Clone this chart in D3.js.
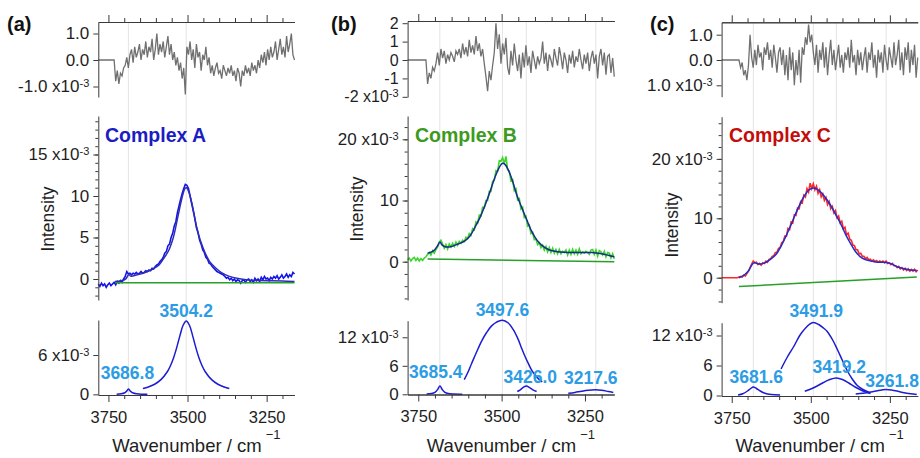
<!DOCTYPE html>
<html><head><meta charset="utf-8">
<script src="https://cdn.jsdelivr.net/npm/d3@7"></script>
<style>
html,body{margin:0;padding:0;background:#fff;}
svg{display:block;font-family:"Liberation Sans",Arial,sans-serif;}
</style></head><body>
<svg id="chart" width="920" height="458"></svg>
<script>
// ---- sampling grid of the recorded traces (cm^-1) ----
const gridStart = 3782, gridStep = 5, gridCount = 125;
const wavenumbers = d3.range(gridCount).map(i => gridStart - i * gridStep);

// ---- Complex A (all intensities in units of 1e-3) ----
const residualA = [0,0,0,0,0,0,0,0,0,0,0,
  -0.8,-0.4,-0.9,-0.5,-0.6,-0.3, -0.2,0.1,-0.3,0.2,
  0.4,-0.1,0.5,0.1,0.3,0.6,0.0,0.4,0.2,0.7,
  0.1,0.5,0.3,0.8,0.0,0.4,1.0,0.2,0.6,0.3,
  0.7,0.1,0.5,0.9,0.2,0.6,0.0,0.3,-0.2,0.1,
  -0.4,-0.1,-0.7,-0.3,-1.3, 0.5,0.2,0.7,0.0,0.4,
  -0.3,0.6,0.1,0.3,-0.4,0.2,0.0,0.5,-0.2,0.1,
  -0.5,-0.2,-0.6,-0.3,-0.1,-0.5,-0.4,-0.7,-0.2,-0.4,
  -0.6,-0.3,-0.5,-0.2,-0.6,-0.4,-0.8,-0.3,-0.5,-1.0,
  -0.4,-0.6,-0.2,-0.5,-0.3,-0.6,-0.1,-0.4,-0.2,-0.5,
  0.0,-0.3,0.2,-0.1,0.3,-0.2,0.4,0.0,0.5,0.1,
  0.3,0.7,0.0,0.4,0.8,0.2,0.5,0.1,0.9,0.3,
  0.6,1.0,0.2,0.0];
const spectrumA = [-0.6,-0.9,-0.5,-0.8,-0.6,-1.0,-0.7,-0.5,-0.8,-0.6,-0.4,
  -0.7,-0.3,-0.5,-0.2,-0.4,0.0, 0.3,0.9,0.6,0.7,
  0.5,0.7,0.6,0.8,0.6,0.7,0.9,0.7,0.8,1.0,
  0.9,1.1,1.0,1.3,1.2,1.5,1.7,1.8,2.1,2.3,
  2.6,3.1,3.3,4.0,4.2,5.0,5.5,6.4,6.9,8.0,
  8.8,9.6,10.3,10.9,11.4, 11.3,10.9,10.0,9.1,8.2,
  7.3,6.2,5.6,4.7,4.2,3.5,3.2,2.6,2.4,1.9,
  1.8,1.5,1.3,1.1,0.9,0.8,0.7,0.6,0.5,0.3,
  0.1,0.2,-0.1,0.1,-0.2,0.0,-0.3,-0.1,-0.2,-0.5,
  -0.2,-0.1,-0.4,-0.1,0.0,-0.3,-0.1,-0.4,0.1,-0.2,
  0.0,-0.3,0.2,-0.1,0.3,0.0,0.1,-0.2,0.2,0.0,
  0.3,0.1,0.4,0.0,0.2,0.5,0.1,0.3,0.6,0.2,
  0.5,0.3,0.8,0.6];
const fitA = [[3729,-0.3],[3710,-0.2],[3697,-0.05],[3690,0.3],[3686,0.55],[3680,0.35],[3670,0.4],
  [3650,0.6],[3630,0.85],[3610,1.2],[3590,1.7],[3575,2.5],[3560,3.4],[3545,5.0],[3530,7.6],
  [3518,9.7],[3508,10.9],[3503,11.0],[3495,10.4],[3485,8.9],[3472,6.4],[3460,4.7],[3445,3.2],
  [3430,2.1],[3410,1.3],[3390,0.7],[3370,0.35],[3340,0.05],[3300,-0.15],[3250,-0.2],[3200,-0.25],[3162,-0.3]];
const baselineA = [[3729,-0.45],[3162,-0.45]];
const peaksA = [
  {label:"3686.8", center:3686.8, points:[[3724,0.02],[3710,0.08],[3700,0.2],[3693,0.45],[3687,0.8],[3680,0.45],[3672,0.2],[3660,0.08],[3645,0.03],[3627,0.02]]},
  {label:"3504.2", center:3504.2, points:[[3641,0.88],[3624,1.12],[3604,1.54],[3584,2.24],[3564,3.45],[3554,4.37],[3544,5.6],[3534,7.17],[3524,8.96],[3514,10.54],[3504,11.2],[3494,10.54],[3484,8.96],[3474,7.17],[3464,5.6],[3454,4.37],[3444,3.45],[3424,2.24],[3404,1.54],[3384,1.12],[3368,0.88]]}
];

// ---- Complex B ----
const residualB = [0,0,0,0,0,0,0,0,0,0,0,0,
  -1.3,-0.7,-1.0,-0.4,-0.6, -0.2,0.4,-0.3,0.6,
  0.1,0.5,-0.2,0.3,0.0,0.4,0.2,-0.1,0.5,0.3,
  0.6,0.1,0.9,0.3,0.7,0.2,1.1,0.4,0.8,0.3,
  1.3,0.5,0.9,0.2,0.6,-0.2,-0.9,-1.7,-0.6,-1.1,
  -0.3,0.4,2.0,0.6,1.4, -0.2,0.9,0.3,1.2,-0.4,
  -0.8,0.5,-0.3,0.9,0.0,-0.6,0.3,-1.0,0.4,-0.4,
  0.8,-0.3,0.2,-0.7,0.5,0.0,-0.5,0.2,-0.2,0.1,
  1.0,-0.2,0.4,-0.6,0.3,0.0,-0.4,0.6,0.1,-0.3,
  0.7,0.2,-0.5,0.4,0.0,-0.7,0.3,-0.2,0.5,-0.4,
  0.2,-0.1,0.6,0.0,-0.5,0.3,-0.2,0.4,-0.6,0.1,
  0.5,-0.2,0.3,-1.0,0.2,0.6,-0.3,0.4,-0.8,0.2,
  0.3,-0.7,0.1,-0.9];
const spectrumB = [0.3,0.6,0.1,0.5,0.7,0.2,0.6,0.1,0.5,0.2,0.6,0.8,
  1.2,1.5,1.1,1.8,1.4, 2.0,2.4,3.2,3.5,
  2.9,2.2,2.8,2.1,2.9,2.4,3.0,2.5,3.2,2.7,
  3.3,3.0,3.5,3.3,4.0,3.8,4.6,4.3,5.4,5.2,
  6.5,6.3,7.6,7.5,8.9,8.8,10.0,10.0,11.5,11.5,
  13.1,13.3,14.9,14.8,16.5, 16.4,17.0,16.0,17.2,15.0,
  14.8,13.2,13.4,11.6,11.9,10.1,10.3,8.6,8.9,7.2,
  7.4,5.8,6.0,4.6,4.8,3.6,3.7,2.8,3.1,2.3,
  2.7,1.9,2.5,1.6,2.3,1.5,2.2,1.4,2.0,1.3,
  2.0,1.3,1.7,1.5,1.9,1.1,1.9,1.2,2.0,1.3,
  1.9,1.2,2.1,1.3,1.6,1.4,1.7,1.5,1.2,1.9,
  2.0,1.2,1.9,0.9,1.8,1.6,1.1,1.7,0.8,1.5,
  1.4,0.6,1.3,0.5];
const fitB = [[3722,1.4],[3710,1.6],[3700,2.0],[3692,2.6],[3685,3.2],[3678,2.7],[3668,2.4],[3650,2.5],
  [3630,2.9],[3610,3.4],[3595,4.2],[3580,5.6],[3565,7.2],[3550,9.2],[3535,11.4],[3520,13.8],[3508,15.3],
  [3498,16.1],[3490,15.9],[3480,15.0],[3468,13.3],[3455,11.0],[3440,8.9],[3425,6.9],[3410,5.0],[3395,3.6],
  [3380,2.7],[3360,2.0],[3340,1.7],[3300,1.5],[3260,1.5],[3230,1.5],[3200,1.3],[3180,1.05],[3162,0.8]];
const baselineB = [[3722,0.45],[3162,0.0]];
const peaksB = [
  {label:"3685.4", center:3685.4, points:[[3725,0.05],[3710,0.15],[3700,0.4],[3692,1.0],[3685,1.75],[3678,1.0],[3670,0.4],[3660,0.15],[3645,0.06],[3618,0.02]]},
  {label:"3497.6", center:3497.6, points:[[3612,3.1],[3600,4.8],[3590,6.5],[3580,8.1],[3570,9.7],[3560,11.2],[3545,13.0],[3530,14.4],[3515,15.2],[3498,15.6],[3480,15.0],[3465,13.6],[3450,11.5],[3440,9.7],[3430,8.0],[3420,6.5],[3410,5.1],[3400,4.1],[3390,3.3],[3378,2.6]]},
  {label:"3426.0", center:3426.0, points:[[3453,0.6],[3445,0.9],[3436,1.4],[3426,1.75],[3416,1.4],[3406,0.95],[3395,0.6]]},
  {label:"3217.6", center:3217.6, points:[[3300,0.2],[3280,0.4],[3260,0.65],[3240,0.85],[3218,0.95],[3200,0.85],[3180,0.6],[3165,0.4]]}
];

// ---- Complex C ----
const residualC = [0,0,0,0,0,0,0,0,0,0,0,
  0.0,-0.3,-0.1,-0.6,-0.4,-0.8, -0.2,1.0,0.1,-0.3,
  0.4,-0.2,0.6,0.1,0.3,-0.4,0.5,0.2,0.7,0.0,
  0.4,-0.3,0.6,0.1,-0.5,0.3,0.5,-0.2,0.4,-0.6,
  0.2,-0.8,0.5,-0.4,0.3,-1.0,0.0,-0.6,0.4,-0.9,
  0.5,0.2,0.9,0.6,1.4, 0.7,1.0,0.3,-0.2,0.6,
  -0.5,0.4,0.0,0.7,-0.3,0.5,-0.6,0.2,0.8,-0.2,
  0.4,-0.4,0.1,0.6,-0.3,0.2,-0.5,0.3,0.0,0.5,
  -0.3,0.8,-0.1,0.2,-0.6,0.4,-0.2,0.3,-0.4,0.1,
  0.5,-0.5,0.3,0.0,0.7,-0.3,0.2,-0.7,0.4,-0.1,
  0.3,-0.5,0.6,0.0,-0.4,0.5,0.1,-0.3,0.7,-0.2,
  0.2,0.8,-0.4,0.3,-0.6,0.5,0.0,0.7,-0.5,0.4,
  -0.2,0.6,-0.7,0.1];
const spectrumC = [0,0,0,0,0,0,0,0,0,0,0,
  0.1,0.2,0.1,0.4,0.3,0.7, 1.1,1.7,2.3,2.8,
  2.5,2.6,2.2,2.4,2.1,2.5,2.4,2.8,2.6,3.1,
  3.2,3.6,3.7,4.2,4.3,4.9,5.1,5.9,6.1,7.0,
  7.0,8.3,8.1,9.4,9.2,10.6,10.5,11.7,11.6,12.8,
  12.6,13.9,13.6,15.0,14.4, 15.9,15.0,15.8,14.8,15.4,
  14.2,14.8,13.6,14.1,13.0,13.5,12.3,12.8,11.6,12.0,
  10.9,11.3,10.1,10.4,9.2,9.5,8.2,8.5,7.2,7.5,
  6.5,6.3,5.5,5.4,4.7,4.7,4.0,4.1,3.6,3.6,
  3.2,3.4,3.0,3.1,2.8,3.0,2.7,2.9,2.6,2.8,
  2.6,2.8,2.5,2.8,2.4,2.5,2.2,2.4,2.0,2.0,
  1.7,1.9,1.5,1.7,1.3,1.6,1.2,1.5,1.1,1.4,
  1.1,1.4,1.0,1.3];
const fitC = [[3727,0.0],[3715,0.3],[3705,0.7],[3695,1.3],[3688,2.0],[3680,2.5],[3670,2.4],[3660,2.3],
  [3645,2.5],[3630,3.0],[3610,3.9],[3595,5.2],[3580,6.8],[3565,8.6],[3550,10.5],[3535,12.3],[3520,13.8],
  [3505,14.8],[3492,15.1],[3480,14.9],[3465,14.2],[3450,13.2],[3435,12.0],[3420,10.5],[3405,9.0],[3390,7.3],
  [3375,5.8],[3360,4.5],[3345,3.6],[3330,3.1],[3310,2.8],[3290,2.6],[3270,2.6],[3255,2.5],[3240,2.2],
  [3225,1.8],[3205,1.5],[3185,1.3],[3165,1.2]];
const baselineC = [[3727,-1.5],[3165,0.1]];
const peaksC = [
  {label:"3681.6", center:3681.6, points:[[3730,0.1],[3715,0.35],[3700,0.9],[3690,1.4],[3681.6,1.7],[3672,1.4],[3660,0.9],[3645,0.45],[3625,0.2],[3597,0.08]]},
  {label:"3491.9", center:3491.9, points:[[3594,5.3],[3575,7.6],[3553,9.9],[3535,12.0],[3522,13.1],[3505,14.2],[3492,14.6],[3475,14.2],[3460,13.5],[3448,12.8],[3430,11.0],[3416,9.2],[3400,7.0],[3385,5.0],[3370,3.4],[3353,2.0],[3335,1.2],[3315,0.6]]},
  {label:"3419.2", center:3419.2, points:[[3519,0.85],[3500,1.3],[3480,1.9],[3460,2.6],[3440,3.2],[3419,3.5],[3400,3.2],[3380,2.5],[3360,1.7],[3340,1.05],[3325,0.7],[3311,0.4]]},
  {label:"3261.8", center:3261.8, points:[[3358,0.3],[3335,0.45],[3310,0.7],[3290,0.95],[3275,1.12],[3262,1.2],[3245,1.1],[3225,0.85],[3205,0.55],[3185,0.35],[3165,0.2]]}
];

// ---- axis ticks ----
const xDomain = [3782, 3162];
const xMajor = [3750, 3500, 3250];
const xMinor = [3700, 3650, 3600, 3550, 3450, 3400, 3350, 3300, 3200];

// plain hyphen for negative tick values
const hy = f => v => f(v).replace("\u2212", "-");

// ---- layout of the three columns ----
const panels = [
  { letter:"(a)", letterX:7, title:"Complex A", titleColor:"#1c1cc4", titleX:105,
    xRange:[98.3, 294.5],
    data:{residual:residualA, spectrum:spectrumA, fit:fitA, baseline:baselineA, peaks:peaksA},
    colors:{data:"#1414e8", fit:"#2e2eb4", baseline:"#27a027"},
    top:{range:[97,22], domain:[-1.396,1.434], major:[1,0,-1], minor:[], fmt:hy(d3.format(".1f")), exp:-1},
    mid:{range:[300,116], domain:[-2.53,19.64], major:[0,5,10,15], minor:d3.range(-2,20,1), exp:15},
    bot:{range:[395,320], domain:[-0.1,11.34], major:[0,6], minor:[], exp:6},
    ylab:{x:48, y:219},
    labelShift:[[-1,10],[0,4]] },
  { letter:"(b)", letterX:331, title:"Complex B", titleColor:"#3c9a1e", titleX:415,
    xRange:[407.6, 614.3],
    data:{residual:residualB, spectrum:spectrumB, fit:fitB, baseline:baselineB, peaks:peaksB},
    colors:{data:"#3ad62a", fit:"#1b2a90", baseline:"#27a027"},
    top:{range:[97,21], domain:[-2.01,2.12], major:[2,1,0,-1,-2], minor:[], fmt:hy(d3.format("d")), exp:-2, fontSize:16},
    mid:{range:[300,116], domain:[-6.26,23.81], major:[0,10,20], minor:d3.range(-6,24,2), exp:20},
    bot:{range:[394.5,320.7], domain:[-0.04,15.49], major:[0,6,12], minor:[], exp:12},
    ylab:{x:357, y:209},
    labelShift:[[-4,8],[0,4],[4,3],[-5,6]] },
  { letter:"(c)", letterX:650, title:"Complex C", titleColor:"#c40c0c", titleX:729,
    xRange:[721.6, 917.7],
    data:{residual:residualC, spectrum:spectrumC, fit:fitC, baseline:baselineC, peaks:peaksC},
    colors:{data:"#ff2626", fit:"#1f2fcc", baseline:"#27a027"},
    top:{range:[96.7,22.3], domain:[-1.45,1.49], major:[1,0,-1], minor:[], fmt:v => d3.format(".1f")(Math.abs(v)), exp:-1},
    mid:{range:[302.7,116.7], domain:[-4.21,27.1], major:[0,10,20], minor:d3.range(-4,28,2), exp:20},
    bot:{range:[396,322.7], domain:[-0.1,14.56], major:[0,6,12], minor:[], exp:12},
    ylab:{x:672, y:225},
    labelShift:[[3,4.5],[3,6],[3,5.5],[6,3]] }
];

const svg = d3.select("#chart");
const axisColor = "#3a3a3a", textColor = "#1e1e1e", peakLabelColor = "#2c9de4";
const residualColor = "#707070", gridColor = "#e4e4e4", componentColor = "#1c1cd2";

function styleAxis(g) {
  g.selectAll(".domain").attr("stroke", axisColor).attr("stroke-width", 1);
  g.selectAll(".tick line").attr("stroke", axisColor).attr("stroke-width", 1);
  g.selectAll(".tick text").attr("fill", textColor).attr("font-size", 17)
    .attr("font-family", "'Liberation Sans', Arial, sans-serif");
}

function drawYAxis(x0, y, spec) {
  const fmt = spec.fmt || d3.format("d");
  const g = svg.append("g").attr("transform", `translate(${x0},0)`);
  if (spec.minor.length) {
    g.append("g").call(d3.axisLeft(y).tickValues(spec.minor).tickSize(3).tickSizeOuter(0).tickFormat(""))
      .call(a => a.select(".domain").remove()).call(styleAxis);
  }
  g.append("g").call(d3.axisLeft(y).tickValues(spec.major).tickSize(5).tickSizeOuter(0).tickPadding(4).tickFormat(fmt))
    .call(styleAxis)
    .call(a => a.selectAll(".tick text").attr("font-size", spec.fontSize || 17))
    .call(a => a.selectAll(".tick text").filter(d => d === spec.exp).each(function(d) {
      const t = d3.select(this).text(null);
      t.append("tspan").text(fmt(d) + " x10");
      t.append("tspan").attr("dy", -5).attr("font-size", 11).text("-3");
    }));
}

panels.forEach(p => {
  const x = d3.scaleLinear().domain(xDomain).range(p.xRange);
  const yTop = d3.scaleLinear().domain(p.top.domain).range(p.top.range);
  const yMid = d3.scaleLinear().domain(p.mid.domain).range(p.mid.range);
  const yBot = d3.scaleLinear().domain(p.bot.domain).range(p.bot.range);
  const d = p.data;

  // vertical guides at the fitted band centres
  svg.append("g").selectAll("line").data(d.peaks).join("line")
    .attr("x1", q => x(q.center)).attr("x2", q => x(q.center))
    .attr("y1", p.top.range[1]).attr("y2", p.bot.range[0])
    .attr("stroke", gridColor).attr("stroke-width", 1);

  const series = (arr) => arr.map((v, i) => [wavenumbers[i], v]);

  // residual
  svg.append("path").datum(series(d.residual))
    .attr("fill", "none").attr("stroke", residualColor).attr("stroke-width", 1.3)
    .attr("d", d3.line().x(q => x(q[0])).y(q => yTop(q[1])));

  // measured spectrum, baseline and total fit
  svg.append("path").datum(series(d.spectrum))
    .attr("fill", "none").attr("stroke", p.colors.data).attr("stroke-width", 1.6)
    .attr("d", d3.line().x(q => x(q[0])).y(q => yMid(q[1])));
  svg.append("path").datum(d.baseline)
    .attr("fill", "none").attr("stroke", p.colors.baseline).attr("stroke-width", 1.5)
    .attr("d", d3.line().x(q => x(q[0])).y(q => yMid(q[1])));
  svg.append("path").datum(d.fit)
    .attr("fill", "none").attr("stroke", p.colors.fit).attr("stroke-width", 1.5)
    .attr("d", d3.line().curve(d3.curveCatmullRom).x(q => x(q[0])).y(q => yMid(q[1])));

  // band components
  svg.append("g").selectAll("path").data(d.peaks).join("path")
    .attr("fill", "none").attr("stroke", componentColor).attr("stroke-width", 1.5)
    .attr("d", q => d3.line().curve(d3.curveCatmullRom).x(r => x(r[0])).y(r => yBot(r[1]))(q.points));

  // band labels above each component maximum
  svg.append("g").selectAll("text").data(d.peaks).join("text")
    .attr("x", (q, i) => x(q.center) + p.labelShift[i][0])
    .attr("y", (q, i) => yBot(d3.max(q.points, r => r[1])) - p.labelShift[i][1])
    .attr("text-anchor", "middle").attr("font-weight", "bold").attr("font-size", 17.5)
    .attr("fill", peakLabelColor).text(q => q.label);

  // axes
  drawYAxis(p.xRange[0], yTop, p.top);
  drawYAxis(p.xRange[0], yMid, p.mid);
  drawYAxis(p.xRange[0], yBot, p.bot);

  const topY = p.top.range[1];
  const gt = svg.append("g").attr("transform", `translate(0,${topY})`);
  gt.append("g").call(d3.axisTop(x).tickValues(xMinor).tickSize(4).tickSizeOuter(0).tickFormat("")).call(styleAxis);
  gt.append("g").call(d3.axisTop(x).tickValues(xMajor).tickSize(7).tickSizeOuter(0).tickFormat("")).call(styleAxis);

  const botY = p.bot.range[0];
  const gb = svg.append("g").attr("transform", `translate(0,${botY})`);
  gb.append("g").call(d3.axisBottom(x).tickValues(xMinor).tickSize(4).tickSizeOuter(0).tickFormat("")).call(styleAxis);
  gb.append("g").call(d3.axisBottom(x).tickValues(xMajor).tickSize(7).tickSizeOuter(0).tickPadding(9).tickFormat(d3.format("d")))
    .call(styleAxis).call(a => a.selectAll(".tick text").attr("font-size", 16.5));

  // titles and axis labels
  svg.append("text").attr("x", p.letterX).attr("y", 31).attr("font-weight", "bold")
    .attr("font-size", 20).attr("fill", "#111").text(p.letter);
  svg.append("text").attr("x", p.titleX).attr("y", 142).attr("font-weight", "bold")
    .attr("font-size", 19.5).attr("fill", p.titleColor).text(p.title);
  svg.append("text").attr("transform", `translate(${p.ylab.x},${p.ylab.y}) rotate(-90)`)
    .attr("text-anchor", "middle").attr("dy", "0.35em").attr("font-size", 17.5)
    .attr("fill", textColor).text("Intensity");
  const xl = svg.append("text").attr("x", (p.xRange[0] + p.xRange[1]) / 2).attr("y", 452)
    .attr("text-anchor", "middle").attr("font-size", 18.5).attr("fill", textColor);
  xl.append("tspan").text("Wavenumber / cm");
  xl.append("tspan").attr("dx", 4).attr("dy", -13).attr("font-size", 13).text("\u22121");
});
</script>
</body></html>
